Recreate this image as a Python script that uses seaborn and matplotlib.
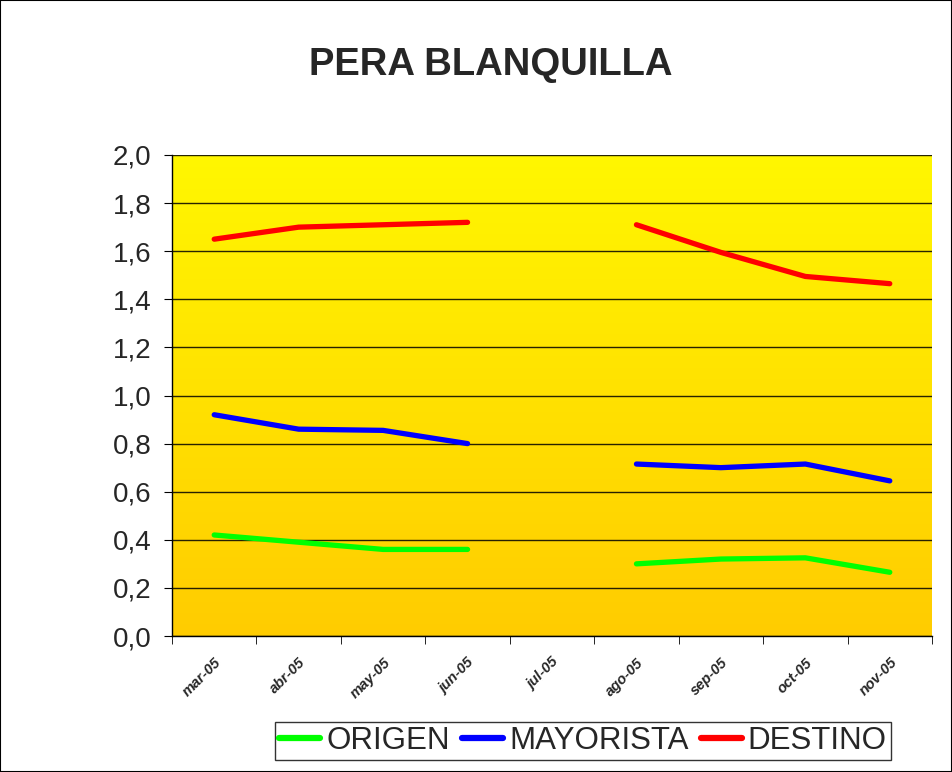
import numpy as np
import pandas as pd
import matplotlib
matplotlib.use("Agg")
import matplotlib.pyplot as plt
import seaborn as sns
from matplotlib.colors import LinearSegmentedColormap
from matplotlib.patches import Rectangle

# data (jul-05 has no value)
months = ["mar-05", "abr-05", "may-05", "jun-05", "jul-05", "ago-05", "sep-05", "oct-05", "nov-05"]
origen = [0.42, 0.39, 0.36, 0.36, np.nan, 0.30, 0.32, 0.325, 0.265]
mayorista = [0.92, 0.86, 0.855, 0.80, np.nan, 0.715, 0.70, 0.715, 0.645]
destino = [1.65, 1.70, 1.71, 1.72, np.nan, 1.71, 1.595, 1.495, 1.465]

series = {"ORIGEN": origen, "MAYORISTA": mayorista, "DESTINO": destino}
colors = {"ORIGEN": "#00FF00", "MAYORISTA": "#0000FF", "DESTINO": "#FF0000"}

rows = []
for name, vals in series.items():
    seg = 0
    for i, v in enumerate(vals):
        if np.isnan(v):
            seg += 1
            continue
        rows.append({"pos": i, "valor": v, "serie": name, "tramo": seg})
df = pd.DataFrame(rows)

sns.set_style("white")
plt.rcParams["font.family"] = ["Liberation Sans", "DejaVu Sans"]

fig = plt.figure(figsize=(9.52, 7.72), dpi=100)
ax = fig.add_axes([172 / 952, 1 - 636 / 772, (932 - 172) / 952, (636 - 155) / 772])

# yellow gradient background
cmap = LinearSegmentedColormap.from_list("fondo", ["#FFF700", "#FFCC00"])
ax.imshow(np.linspace(0, 1, 256).reshape(-1, 1), cmap=cmap, aspect="auto",
          extent=(-0.5, 8.5, 0, 2), zorder=0)

sns.lineplot(data=df, x="pos", y="valor", hue="serie", units="tramo", estimator=None,
             palette=colors, linewidth=3.8, ax=ax, legend=False, zorder=3,
             solid_capstyle="round")

ax.set_xlim(-0.5, 8.5)
ax.set_ylim(0, 2)
ax.set_yticks(np.arange(0, 2.01, 0.2))
ax.set_yticklabels([f"{v:.1f}".replace(".", ",") for v in np.arange(0, 2.01, 0.2)], fontsize=20)
ax.grid(axis="y", color="black", linewidth=1, alpha=0.85, zorder=1)
ax.set_axisbelow(False)

ax.set_xticks(range(len(months)))
ax.set_xticklabels(months, rotation=45, ha="right", rotation_mode="anchor",
                   fontsize=10.5, fontweight="bold", fontstyle="italic")
ax.set_xticks(np.arange(-0.5, 9, 1), minor=True)
ax.tick_params(axis="x", which="major", length=0, pad=14)
ax.tick_params(axis="x", which="minor", length=6, direction="out", color="black", bottom=True)
ax.tick_params(axis="y", length=6, direction="out", color="black", left=True, pad=9)
ax.set_xlabel("")
ax.set_ylabel("")

for s in ["top", "right"]:
    ax.spines[s].set_visible(False)
for s in ["left", "bottom"]:
    ax.spines[s].set_color("black")
    ax.spines[s].set_linewidth(1)

fig.text(491 / 952, 1 - 65 / 772, "PERA BLANQUILLA", ha="center", va="center",
         fontsize=27.5, fontweight="bold")

handles = [plt.Line2D([], [], color=colors[n], linewidth=4.5, solid_capstyle="round") for n in series]
leg = fig.legend(handles, list(series), loc="center", bbox_to_anchor=(583 / 952, 1 - 741 / 772),
                 ncol=3, fontsize=22.5, frameon=True, fancybox=False, edgecolor="black",
                 handlelength=1.3, handletextpad=0.2, columnspacing=0.4, borderpad=0.12,
                 borderaxespad=0)
leg.get_frame().set_linewidth(1)

fig.patches.append(Rectangle((0, 0), 1, 1, transform=fig.transFigure, fill=False,
                             edgecolor="black", linewidth=1.5))

fig.savefig("out.png", dpi=100, facecolor="white")
